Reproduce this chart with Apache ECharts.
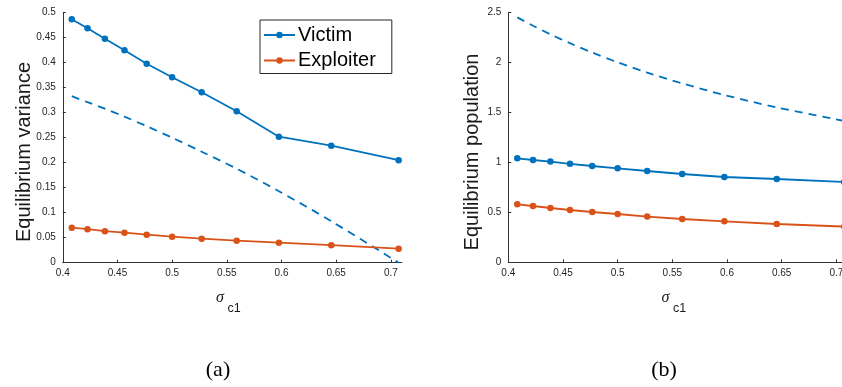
<!DOCTYPE html>
<html>
<head>
<meta charset="utf-8">
<script src="https://cdn.jsdelivr.net/npm/echarts@6/dist/echarts.min.js"></script>
<style>
html,body{margin:0;padding:0;background:#fff;}
#chart{width:842px;height:387px;}
</style>
</head>
<body>
<div id="chart"></div>
<script>
// sigma_c1 values (x positions of markers)
var sigma = [0.4082, 0.4226, 0.4385, 0.4564, 0.4767, 0.5, 0.5270, 0.5590, 0.5976, 0.6455, 0.7071];
// (a) Equilibrium variance
var varVictim = [0.487, 0.469, 0.448, 0.425, 0.398, 0.371, 0.341, 0.303, 0.252, 0.234, 0.205];
var varExploiter = [0.070, 0.067, 0.063, 0.060, 0.056, 0.052, 0.048, 0.044, 0.040, 0.035, 0.028];
var varDashed = [0.333, 0.321, 0.308, 0.292, 0.273, 0.250, 0.222, 0.188, 0.143, 0.083, 0.0];
// (b) Equilibrium population
var popVictim = [1.040, 1.023, 1.007, 0.985, 0.963, 0.940, 0.913, 0.883, 0.853, 0.833, 0.803];
var popExploiter = [0.580, 0.563, 0.543, 0.523, 0.503, 0.483, 0.457, 0.433, 0.410, 0.383, 0.357];
var popDashed = [2.449, 2.366, 2.280, 2.191, 2.098, 2.000, 1.897, 1.789, 1.673, 1.549, 1.414];
// tick labels
var xTicks = [0.4, 0.45, 0.5, 0.55, 0.6, 0.65, 0.7];
var seriesNames = ['Victim', 'Exploiter'];
var panelLabels = ['(a)', '(b)'];
var yNames = ['Equilibrium variance', 'Equilibrium population'];

function pairs(xs, ys) { return xs.map(function (x, i) { return [x, ys[i]]; }); }

var BLUE = '#0072BD', ORANGE = '#D95319', AX = '#333333';

function xAxisCfg(gi) {
  return {
    type: 'value', gridIndex: gi, min: 0.4, max: 0.71,
    axisLine: { show: true, lineStyle: { color: AX, width: 1 } },
    axisTick: { show: true, inside: true, length: 3, lineStyle: { color: AX }, customValues: xTicks },
    axisLabel: { color: '#262626', fontSize: 10, fontFamily: 'Liberation Sans', margin: 6, customValues: xTicks },
    splitLine: { show: false }
  };
}
function yAxisCfg(gi, max, interval) {
  return {
    type: 'value', gridIndex: gi, min: 0, max: max, interval: interval,
    axisLine: { show: true, lineStyle: { color: AX, width: 1 } },
    axisTick: { show: true, inside: true, length: 3, lineStyle: { color: AX } },
    axisLabel: { color: '#262626', fontSize: 10, fontFamily: 'Liberation Sans', margin: 7 },
    splitLine: { show: false }
  };
}
function lineSeries(name, gi, ys, color) {
  return {
    name: name, type: 'line', xAxisIndex: gi, yAxisIndex: gi,
    data: pairs(sigma, ys), symbol: 'circle', symbolSize: 6.5,
    lineStyle: { color: color, width: 1.8 }, itemStyle: { color: color },
    z: 3
  };
}
function dashSeries(gi, ys) {
  return {
    name: 'bound' + gi, type: 'line', xAxisIndex: gi, yAxisIndex: gi,
    data: pairs(sigma, ys), symbol: 'none', smooth: 0.3,
    lineStyle: { color: BLUE, width: 1.8, type: [8, 6] }, z: 2
  };
}

var chart = echarts.init(document.getElementById('chart'), null, { renderer: 'canvas' });
var option = {
  animation: false,
  backgroundColor: '#ffffff',
  grid: [
    { left: 62.8, top: 12.7, width: 339, height: 250, outerBoundsMode: 'none', containLabel: false },
    { left: 508.3, top: 12.3, width: 339, height: 250, outerBoundsMode: 'none', containLabel: false }
  ],
  xAxis: [xAxisCfg(0), xAxisCfg(1)],
  yAxis: [yAxisCfg(0, 0.5, 0.05), yAxisCfg(1, 2.5, 0.5)],
  legend: {
    data: seriesNames, orient: 'vertical', left: 260, top: 20,
    itemWidth: 31, itemHeight: 8, itemGap: 3.5,
    padding: [4, 16, 2, 3],
    borderColor: '#262626', borderWidth: 1, backgroundColor: '#fff',
    textStyle: { fontSize: 20, fontFamily: 'Liberation Sans', color: '#000', lineHeight: 22, padding: [0, 0, 0, -2] }
  },
  series: [
    lineSeries(seriesNames[0], 0, varVictim, BLUE),
    lineSeries(seriesNames[1], 0, varExploiter, ORANGE),
    dashSeries(0, varDashed),
    lineSeries(seriesNames[0], 1, popVictim, BLUE),
    lineSeries(seriesNames[1], 1, popExploiter, ORANGE),
    dashSeries(1, popDashed)
  ],
  graphic: [
    { type: 'text', x: 24, y: 152, rotation: Math.PI / 2,
      style: { text: yNames[0], font: '20px "Liberation Sans"', fill: '#1a1a1a', textAlign: 'center', textVerticalAlign: 'middle' } },
    { type: 'text', x: 472, y: 152, rotation: Math.PI / 2,
      style: { text: yNames[1], font: '20px "Liberation Sans"', fill: '#1a1a1a', textAlign: 'center', textVerticalAlign: 'middle' } },
    { type: 'text', x: 220, y: 298,
      style: { text: 'σ', font: 'italic 16px "Liberation Serif"', fill: '#1a1a1a', textAlign: 'center', textVerticalAlign: 'middle' } },
    { type: 'text', x: 227.5, y: 309,
      style: { text: 'c1', font: '12.5px "Liberation Sans"', fill: '#1a1a1a', textAlign: 'left', textVerticalAlign: 'middle' } },
    { type: 'text', x: 665.5, y: 298,
      style: { text: 'σ', font: 'italic 16px "Liberation Serif"', fill: '#1a1a1a', textAlign: 'center', textVerticalAlign: 'middle' } },
    { type: 'text', x: 673, y: 309,
      style: { text: 'c1', font: '12.5px "Liberation Sans"', fill: '#1a1a1a', textAlign: 'left', textVerticalAlign: 'middle' } },
    { type: 'text', x: 218, y: 370,
      style: { text: panelLabels[0], font: '22px "Liberation Serif"', fill: '#000', textAlign: 'center', textVerticalAlign: 'middle' } },
    { type: 'text', x: 664, y: 370,
      style: { text: panelLabels[1], font: '22px "Liberation Serif"', fill: '#000', textAlign: 'center', textVerticalAlign: 'middle' } }
  ]
};
chart.setOption(option);
</script>
</body>
</html>
